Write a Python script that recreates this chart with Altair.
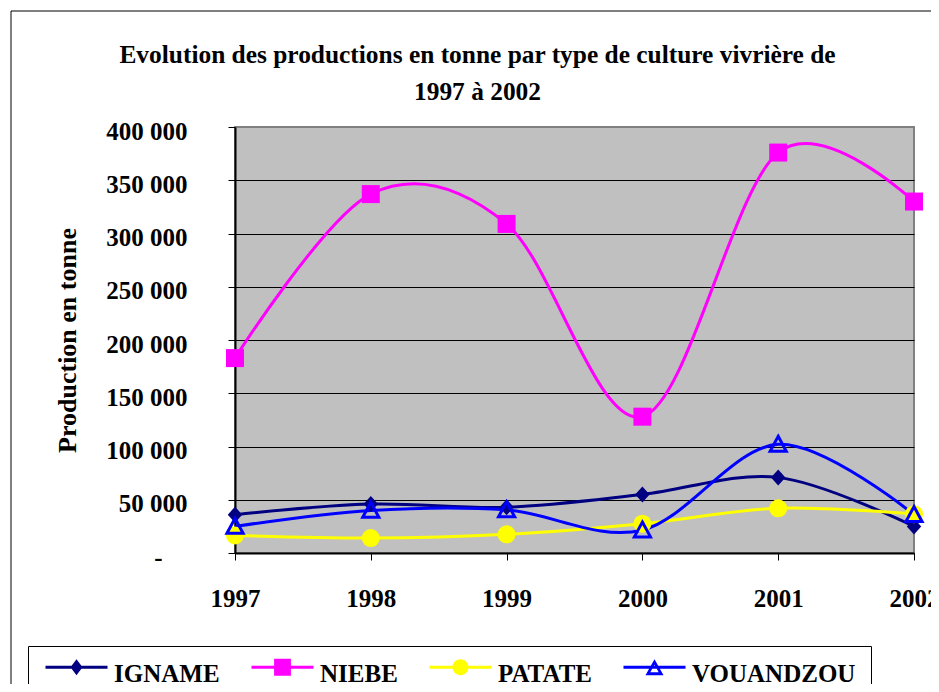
import altair as alt
import pandas as pd

years = [1997, 1998, 1999, 2000, 2001, 2002]
igname = [36000, 46000, 43000, 55000, 71000, 25000]
niebe = [183000, 337000, 309000, 128000, 376000, 330000]
patate = [16500, 14000, 17500, 27500, 42000, 36500]
vouandzou = [25000, 40000, 40500, 21500, 102000, 36000]

crops = ["IGNAME", "NIEBE", "PATATE", "VOUANDZOU"]
colors = ["#000080", "#FF00FF", "#FFFF00", "#0000FF"]
y_ticks = [0, 50000, 100000, 150000, 200000, 250000, 300000, 350000, 400000]
title_lines = ["Evolution des productions en tonne par type de culture vivrière de", "1997 à 2002"]

rows = []
for name, vals in zip(crops, [igname, niebe, patate, vouandzou]):
    for yr, v in zip(years, vals):
        rows.append({"annee": yr, "culture": name, "production": v})
df = pd.DataFrame(rows)

FONT = "Liberation Serif"

# marker shapes (unit box -1..1)
diamond = "M0,-0.89L0.8,0L0,0.89L-0.8,0Z"
triangle = "M0,-0.95L0.95,0.8L-0.95,0.8Z"

# legend symbols: line segment + marker
leg_line = "M-4.43,-1.14H4.43V-0.72H-4.43Z"
leg_igname = leg_line + "M0,-2.07L0.86,-0.93L0,0.21L-0.86,-0.93Z"
leg_niebe = leg_line + "M-1.2,-2.13H1.2V0.27H-1.2Z"
leg_patate = leg_line + "M-1.14,-0.93A1.14,1.14 0 1,1 1.14,-0.93A1.14,1.14 0 1,1 -1.14,-0.93Z"
leg_vouandzou = leg_line + "M0,-2.07L1.29,0.21L-1.29,0.21ZM0,-1.3L-0.6,-0.22L0.6,-0.22Z"

x_enc = alt.X(
    "annee:Q",
    scale=alt.Scale(domain=[1997, 2002], nice=False, zero=False),
    axis=alt.Axis(
        values=years, format="d", title=None, grid=False, labelFlush=False,
        labelFont=FONT, labelFontSize=25, labelFontWeight="bold", labelColor="black",
        labelPadding=26, tickSize=7, tickColor="black", tickWidth=1,
        domainColor="black", domainWidth=2, labelOverlap=False,
    ),
)
y_enc = alt.Y(
    "production:Q",
    scale=alt.Scale(domain=[0, 400000], nice=False),
    axis=alt.Axis(
        values=y_ticks,
        labelExpr="datum.value == 0 ? '-' : format(datum.value / 1000, 'd') + ' 000'",
        labelFont=FONT, labelFontSize=25, labelFontWeight="bold", labelColor="black",
        labelPadding={"condition": {"test": "datum.value == 0", "value": 66}, "value": 41},
        labelOffset=4, tickSize=7, tickColor="black", tickWidth=1,
        domainColor="black", domainWidth=2, labelOverlap=False,
        grid=True, gridColor={"condition": {"test": "datum.value >= 400000", "value": "#808080"}, "value": "black"},
        gridWidth=1,
        title="Production en tonne", titleFont=FONT, titleFontSize=26, titleFontWeight="bold",
        titleColor="black", titleAngle=270, titleX=-160, titleY=213,
        titleAlign="center", titleBaseline="alphabetic",
    ),
)

color_nolegend = alt.Color("culture:N", scale=alt.Scale(domain=crops, range=colors), legend=None)

border = alt.Chart(alt.Data(values=[{"a": 1}])).mark_rect(
    fillOpacity=0, stroke="black", strokeWidth=1
).encode(
    x=alt.value(-224), x2=alt.value(900), y=alt.value(-116), y2=alt.value(700)
)

lines = alt.Chart(df).mark_line(interpolate="cardinal", strokeWidth=3).encode(
    x=x_enc, y=y_enc, color=color_nolegend, detail="culture:N"
)

filled_pts = alt.Chart(df).transform_filter(
    "datum.culture != 'VOUANDZOU'"
).mark_point(filled=True, size=324, opacity=1).encode(
    x=x_enc, y=y_enc,
    color=alt.Color("culture:N", scale=alt.Scale(domain=crops[:3], range=colors[:3]), legend=None),
    shape=alt.Shape("culture:N", scale=alt.Scale(domain=crops[:3], range=[diamond, "square", "circle"]), legend=None),
)

hollow_pts = alt.Chart(df).transform_filter(
    "datum.culture == 'VOUANDZOU'"
).mark_point(filled=False, shape=triangle, size=289, strokeWidth=3, color="#0000FF", opacity=1).encode(
    x=x_enc, y=y_enc
)

leg = alt.Legend(
    orient="none", legendX=-207, legendY=519, direction="horizontal", columns=4, title=None,
    strokeColor="black", fillColor="white", padding=15, symbolSize=196, symbolOffset=21,
    labelOffset=25, columnPadding=29, labelFontSize=25, labelFont=FONT, labelFontWeight="bold",
    labelColor="black", labelLimit=300, symbolStrokeWidth=0, symbolOpacity=1,
)

legend_layer = alt.Chart(df).transform_filter("datum.production < 0").mark_point(
    filled=True, size=196, opacity=1
).encode(
    x=x_enc, y=y_enc,
    color=alt.Color("culture:N", scale=alt.Scale(domain=crops, range=colors), legend=leg),
    shape=alt.Shape("culture:N", scale=alt.Scale(domain=crops, range=[leg_igname, leg_niebe, leg_patate, leg_vouandzou]), legend=leg),
)

chart = alt.layer(border, lines, filled_pts, hollow_pts, legend_layer).resolve_scale(
    color="independent", shape="independent"
).properties(
    width=679, height=426,
    autosize=alt.AutoSizeParams(type="none"),
    padding={"left": 227, "top": 119, "right": 17, "bottom": 131},
    title=alt.TitleParams(
        text=title_lines, font=FONT, fontSize=25.4, fontWeight="bold", color="black",
        anchor="middle", dx=-97, dy=142, lineHeight=37, baseline="bottom", offset=22,
    ),
).configure_view(
    fill="#C0C0C0", stroke="#808080", strokeWidth=2
).configure_legend(strokeWidth=1)

chart.save("out.html", embed_options={"renderer": "svg", "actions": False})
